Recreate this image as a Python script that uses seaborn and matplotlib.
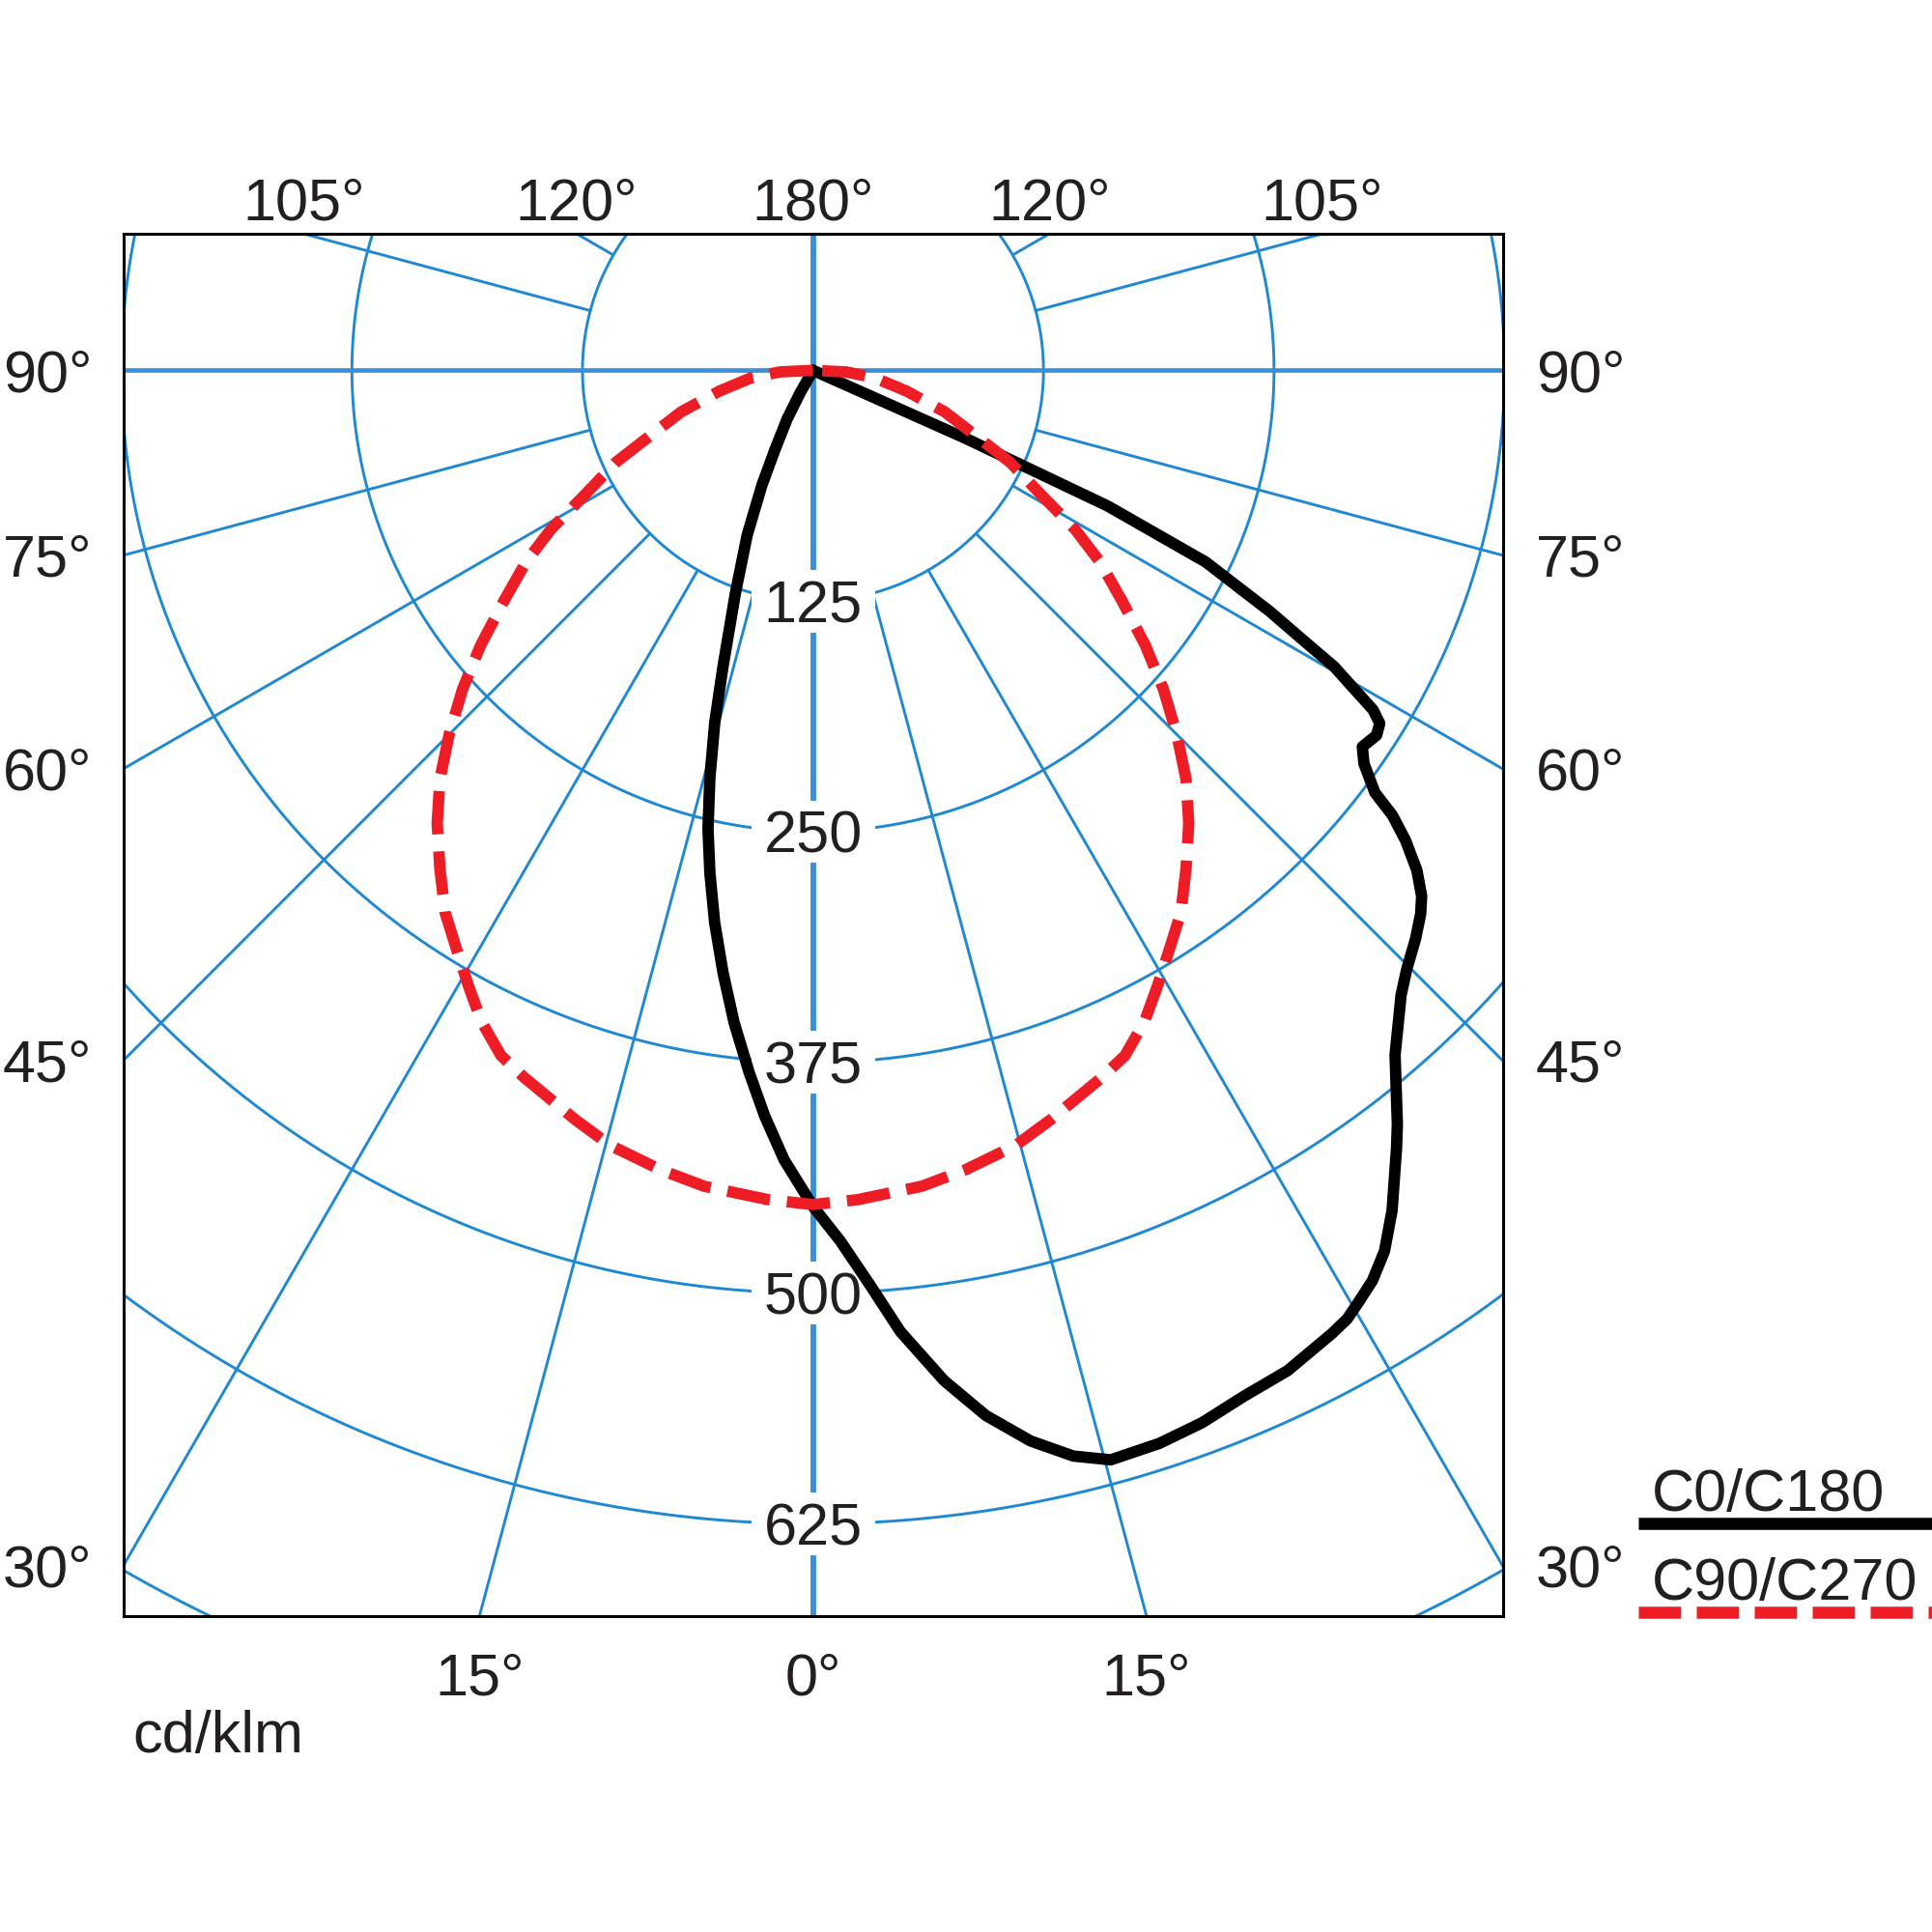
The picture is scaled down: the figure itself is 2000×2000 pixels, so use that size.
import numpy as np
import pandas as pd
import matplotlib
matplotlib.use('Agg')
import matplotlib.pyplot as plt
from matplotlib.patches import Rectangle
import seaborn as sns

# C0/C180 plane: gamma angle in degrees (+ = C0 side, - = C180 side), cd/klm
c0_angle = [-30.5, -29.8, -28, -25.6, -24, -21.8, -19.2, -16.9, -15.6, -14.2, -12.9,
            -11.6, -10.1, -8.5, -6.9, -5.2, -3.7, -2.1, 0,
            1.8, 3.6, 5.2, 7.4, 9.4, 11.5, 13.5, 15.3, 17.9, 20.3, 22.8, 25.4, 28.3,
            29.4, 30.4, 31.6, 33.0, 34.6, 36.9, 37.8, 40.4, 43.3, 44.8, 46.7, 48.2,
            49.2, 50.4, 51.6, 52.5, 53.1, 54.5, 55.6, 57.1, 58.1, 58.8, 59.4, 60.4,
            61.2, 62.2, 63.0, 64.0, 65.3, 66.0, 66.0]
c0_value = [0, 14, 30, 48, 68, 96, 128, 168, 198, 228, 255,
            278, 304, 330, 356, 382, 405, 428, 453,
            472, 497, 523, 552, 574, 592, 605, 612, 611, 608, 603, 600, 593,
            590, 585, 579, 569, 553, 527, 517, 487, 465, 457, 449, 442,
            436, 425, 410, 396, 381, 367, 361, 364, 362, 355, 343, 325,
            303, 280, 259, 237, 176, 90, 0]

# C90/C270 plane (symmetric), half curve
c90_angle = [0, 3.1, 7.6, 10.8, 14.7, 17.6, 22.2, 24.5, 27, 29.3, 31.9, 34.2, 36.9,
             39.7, 42.4, 45, 47.7, 50.4, 53.3, 56.3, 58.8, 61.4, 65, 68, 72.5, 77.5,
             83, 87.3, 90]
c90_value = [452, 450, 446, 441, 434, 426, 414, 408, 396, 382, 367, 355, 337,
             319, 300, 279, 257, 234, 209, 187, 166, 141, 118, 96, 75, 52,
             34, 18, 0]

rings = [125, 250, 375, 500, 625, 750]
ring_labels = ['125', '250', '375', '500', '625']
top_labels = ['105°', '120°', '180°', '120°', '105°']
top_angles = [-105, -120, 180, 120, 105]
side_angles = [90, 75, 60, 45, 30]
bottom_angles = [-15, 0, 15]

BLUE = '#1f88d2'
AXBLUE = '#3b8fd6'
TXT = '#231f20'
FS = 44

sns.set_style('white')
plt.rcParams['font.family'] = ['Liberation Sans', 'DejaVu Sans']

fig = plt.figure(figsize=(20, 20), dpi=100)
ax = fig.add_axes([0.0638, 0.1635, 0.714, 0.7155])
XL, YT, YB = 374, 74, -675
ax.set_xlim(-XL, XL)
ax.set_ylim(YB, YT)
ax.set_xticks([])
ax.set_yticks([])
for s in ax.spines.values():
    s.set_color('black')
    s.set_linewidth(2.2)
    s.set_zorder(6)


def to_xy(angle, value):
    a = np.radians(np.asarray(angle, float))
    v = np.asarray(value, float)
    return v * np.sin(a), -v * np.cos(a)


# grid: rings, spokes, axes lines
t = np.linspace(0, 2 * np.pi, 1441)
for r in rings:
    ax.plot(r * np.cos(t), r * np.sin(t), color=BLUE, lw=2.1, zorder=1)
for k in range(24):
    ang = k * 15
    if ang % 90 == 0:
        continue
    x, y = to_xy([ang, ang], [125, 1200])
    ax.plot(x, y, color=BLUE, lw=2.1, zorder=1)
ax.plot([0, 0], [-1000, 1000], color=AXBLUE, lw=4.2, zorder=1)
ax.plot([-1000, 1000], [0, 0], color=AXBLUE, lw=3.4, zorder=1)

# ring labels with white backing
half_cap = 0.716 * FS * 100 / 72 / 1.91 / 2
for r, lab in zip(rings, ring_labels):
    ax.add_patch(Rectangle((-33.5, -r - 17), 67, 34, fc='white', ec='none', zorder=3))
    ax.text(0, -r - half_cap, lab, ha='center', va='baseline', fontsize=FS, color=TXT, zorder=4)

# outer angle labels
for a, lab in zip(top_angles, top_labels):
    x = 0 if a == 180 else np.sign(a) * YT / np.tan(np.radians(abs(a) - 90))
    ax.text(x, 81.7, lab, ha='center', va='baseline', fontsize=FS, color=TXT)
for a in side_angles:
    y = 0 if a == 90 else -XL / np.tan(np.radians(a))
    ax.text(-391, y - half_cap, f'{a}°', ha='right', va='baseline', fontsize=FS, color=TXT)
    ax.text(392, y - half_cap, f'{a}°', ha='left', va='baseline', fontsize=FS, color=TXT)
for a in bottom_angles:
    x = -YB * np.tan(np.radians(a))
    ax.text(x, -717.8, f'{abs(a)}°', ha='center', va='baseline', fontsize=FS, color=TXT)
ax.text(-369, -749, 'cd/klm', ha='left', va='baseline', fontsize=FS, color=TXT)

# curves
bx, by = to_xy(c0_angle, c0_value)
black = pd.DataFrame({'x': bx, 'y': by})
sns.lineplot(data=black, x='x', y='y', sort=False, estimator=None, ax=ax,
             color='black', lw=8.5, zorder=5)
ax.lines[-1].set_solid_joinstyle('round')

full_angle = [-a for a in c90_angle[::-1]] + c90_angle[1:]
full_value = c90_value[::-1] + c90_value[1:]
rx, ry = to_xy(full_angle, full_value)
red = pd.DataFrame({'x': rx, 'y': ry})
sns.lineplot(data=red, x='x', y='y', sort=False, estimator=None, ax=ax,
             color='#ee1c25', lw=8.5, zorder=5)
ax.lines[-1].set_dashes([3.8, 1.5])

# legend outside the frame
ax.text(455, -617.8, 'C0/C180', ha='left', va='baseline', fontsize=FS, color=TXT)
ax.plot([447.6, 620], [-625, -625], color='black', lw=9, clip_on=False, solid_capstyle='butt')
ax.text(455, -666, 'C90/C270', ha='left', va='baseline', fontsize=FS, color=TXT)
leg_red, = ax.plot([447.6, 620], [-673, -673], color='#ee1c25', lw=9, clip_on=False)
leg_red.set_dashes([3.5, 1.3])

ax.set_xlabel('')
ax.set_ylabel('')
fig.savefig('out.png', dpi=100, facecolor='white')
